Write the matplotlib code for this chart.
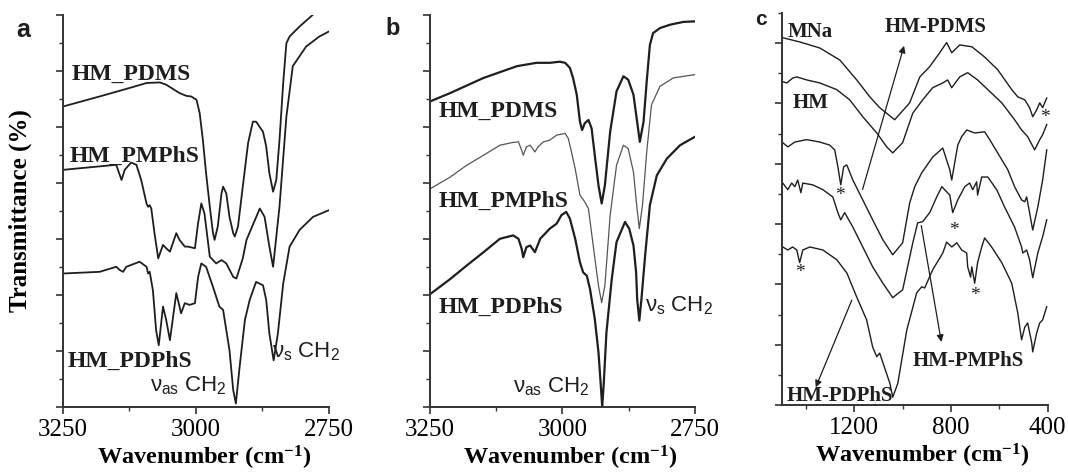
import matplotlib
matplotlib.use("Agg")
import matplotlib.pyplot as plt
from matplotlib.ticker import MultipleLocator

# ---- panel a : 3250-2750 cm-1 ----
a_pdms_x = [3250, 3181, 3118, 3093, 3068, 3056, 3031, 3018, 3009, 2999, 2993, 2987, 2981, 2974,
            2968, 2965, 2959, 2952, 2949, 2943, 2937, 2930, 2927, 2921, 2912, 2902, 2893, 2887,
            2874, 2868, 2862, 2855, 2849, 2843, 2836, 2830, 2824, 2805, 2780]
a_pdms_y = [5.36, 5.54, 5.71, 5.78, 5.79, 5.75, 5.60, 5.55, 5.54, 5.48, 5.24, 4.76, 4.17, 3.57,
            3.10, 2.98, 3.22, 3.81, 3.93, 3.81, 3.39, 3.10, 3.04, 3.22, 3.93, 4.71, 5.09, 5.09,
            4.91, 4.65, 4.17, 3.84, 4.05, 4.76, 5.78, 6.49, 6.61, 6.79, 7.0]

a_pmphs_x = [3250, 3150, 3140, 3134, 3122, 3112, 3103, 3093, 3090, 3087, 3084, 3078, 3071, 3062,
             3056, 3049, 3037, 3031, 3021, 3015, 3002, 2996, 2990, 2984, 2974, 2962, 2952, 2943,
             2930, 2924, 2912, 2905, 2880, 2871, 2862, 2855, 2843, 2830, 2818, 2793, 2768, 2750]
a_pmphs_y = [4.23, 4.32, 4.05, 4.23, 4.36, 4.32, 4.05, 3.63, 3.57, 3.60, 3.54, 3.10, 2.65, 2.89,
             2.83, 2.77, 3.10, 2.98, 2.86, 2.86, 2.83, 3.28, 3.63, 3.45, 2.68, 2.56, 2.62, 2.56,
             2.32, 2.29, 2.65, 2.98, 3.54, 3.39, 2.86, 2.50, 3.57, 5.18, 6.08, 6.43, 6.61, 6.70]

a_pdphs_x = [3250, 3181, 3150, 3143, 3137, 3131, 3106, 3093, 3090, 3087, 3081, 3075, 3070, 3062,
             3056, 3049, 3037, 3028, 3021, 3012, 3002, 2996, 2990, 2981, 2968, 2956, 2949, 2937,
             2930, 2925, 2918, 2908, 2899, 2887, 2874, 2868, 2862, 2854, 2846, 2836, 2824, 2805,
             2780, 2750]
a_pdphs_y = [2.38, 2.41, 2.50, 2.44, 2.41, 2.50, 2.59, 2.50, 2.38, 2.41, 2.08, 1.37, 1.10, 1.79,
             1.55, 1.19, 2.03, 1.67, 1.85, 1.82, 1.85, 2.32, 2.56, 2.50, 2.14, 1.79, 1.73, 1.01,
             0.30, 0.06, 0.71, 1.55, 1.91, 2.23, 2.17, 1.91, 1.31, 0.83, 1.31, 2.20, 2.86, 3.16,
             3.39, 3.51]

# ---- panel b : 3250-2750 cm-1 ----
b_pdms_x = [3250, 3212, 3149, 3086, 3049, 3024, 3005, 2995, 2986, 2980, 2973, 2967, 2963, 2958,
            2951, 2945, 2939, 2932, 2926, 2920, 2910, 2898, 2885, 2876, 2866, 2860, 2854, 2847,
            2841, 2835, 2829, 2816, 2797, 2772, 2750]
b_pdms_y = [5.45, 5.60, 5.87, 6.08, 6.14, 6.14, 6.16, 6.14, 6.05, 5.87, 5.57, 5.09, 4.94, 5.06,
            5.12, 4.97, 4.49, 3.95, 3.63, 3.95, 4.91, 5.63, 5.90, 5.84, 5.57, 5.15, 4.73, 5.09,
            5.81, 6.46, 6.67, 6.76, 6.82, 6.87, 6.88]

b_pmphs_x = [3250, 3212, 3181, 3149, 3118, 3093, 3083, 3077, 3074, 3068, 3061, 3052, 3046, 3036,
             3024, 3011, 2995, 2989, 2983, 2976, 2967, 2958, 2951, 2942, 2932, 2926, 2920, 2910,
             2898, 2885, 2876, 2866, 2860, 2855, 2849, 2841, 2832, 2816, 2791, 2750]
b_pmphs_y = [3.89, 4.10, 4.31, 4.49, 4.67, 4.72, 4.73, 4.58, 4.49, 4.64, 4.67, 4.55, 4.64, 4.73,
             4.76, 4.85, 4.88, 4.79, 4.55, 4.25, 3.78, 3.66, 3.54, 2.88, 2.16, 1.86, 2.16, 3.42,
             4.31, 4.67, 4.61, 4.19, 3.60, 3.18, 3.60, 4.55, 5.39, 5.72, 5.87, 5.93]

b_pdphs_x = [3250, 3212, 3181, 3149, 3118, 3093, 3083, 3077, 3074, 3068, 3061, 3052, 3042, 3033,
             3024, 3011, 3002, 2993, 2986, 2976, 2967, 2961, 2954, 2948, 2939, 2932, 2928, 2925,
             2922, 2917, 2907, 2898, 2882, 2874, 2866, 2861, 2859, 2855, 2851, 2844, 2835, 2822,
             2803, 2778, 2750]
b_pdphs_y = [2.01, 2.28, 2.52, 2.76, 3.00, 3.06, 3.00, 2.82, 2.67, 2.85, 2.88, 2.76, 3.00, 3.09,
             3.18, 3.27, 3.42, 3.48, 3.36, 3.00, 2.58, 2.40, 2.34, 2.10, 1.57, 0.97, 0.43, 0.0,
             0.43, 1.33, 2.28, 2.94, 3.30, 3.18, 2.88, 2.40, 1.92, 1.54, 1.92, 2.70, 3.60, 4.13,
             4.43, 4.67, 4.82]

# ---- panel c : 1500-400 cm-1 ----
c_mna_x = [1496, 1426, 1343, 1260, 1190, 1136, 1095, 1033, 971, 929, 888, 847, 818, 797, 764,
           714, 661, 607, 549, 524, 495, 475, 462, 446, 433, 421, 404]
c_mna_y = [6.09, 6.02, 5.92, 5.72, 5.39, 5.11, 4.93, 4.73, 5.01, 5.44, 5.61, 5.84, 6.01, 5.84,
           5.97, 5.94, 5.77, 5.56, 5.23, 5.11, 5.06, 4.93, 4.78, 4.89, 5.01, 4.93, 5.09]

c_hm_x = [1496, 1479, 1455, 1438, 1397, 1343, 1273, 1219, 1165, 1107, 1066, 1041, 1000, 958,
          917, 876, 834, 814, 797, 764, 731, 690, 648, 590, 537, 508, 483, 454, 433, 421, 404]
c_hm_y = [5.36, 5.34, 5.42, 5.44, 5.39, 5.34, 5.23, 5.06, 4.78, 4.51, 4.28, 4.18, 4.35, 4.84,
          5.06, 5.26, 5.34, 5.39, 5.26, 5.44, 5.51, 5.39, 5.23, 5.01, 4.73, 4.56, 4.45, 4.23,
          4.40, 4.48, 4.65]

c_pdms_x = [1496, 1475, 1446, 1397, 1343, 1302, 1281, 1268, 1256, 1244, 1231, 1206, 1165, 1124,
            1082, 1041, 1000, 971, 950, 921, 876, 834, 805, 797, 772, 756, 735, 702, 661, 640,
            607, 565, 537, 508, 495, 487, 475, 462, 441, 421, 404]
c_pdms_y = [4.35, 4.28, 4.36, 4.40, 4.36, 4.31, 4.23, 3.95, 3.65, 3.95, 3.98, 3.73, 3.40, 3.07,
            2.74, 2.49, 2.69, 3.35, 3.62, 3.85, 4.11, 4.26, 3.90, 3.73, 4.31, 4.45, 4.56, 4.51,
            4.53, 4.40, 4.18, 3.90, 3.62, 3.40, 3.37, 3.45, 3.19, 2.90, 3.28, 3.73, 4.23]

c_pmphs_x = [1496, 1475, 1459, 1446, 1434, 1421, 1413, 1372, 1330, 1289, 1268, 1256, 1240, 1206,
             1165, 1124, 1082, 1041, 1000, 958, 938, 917, 888, 859, 838, 805, 793, 772, 743, 723,
             710, 694, 690, 673, 648, 611, 578, 537, 508, 503, 487, 475, 462, 441, 421, 404]
c_pmphs_y = [3.68, 3.57, 3.68, 3.62, 3.73, 3.52, 3.68, 3.65, 3.57, 3.45, 3.19, 3.07, 3.19, 2.95,
             2.62, 2.29, 2.02, 1.78, 1.91, 2.69, 3.02, 3.04, 3.19, 3.45, 3.62, 3.48, 3.19, 3.40,
             3.62, 3.68, 3.57, 3.70, 3.48, 3.78, 3.78, 3.57, 3.28, 2.95, 2.62, 2.52, 2.57, 2.41,
             2.11, 2.52, 2.79, 3.07]

c_pdphs_x = [1496, 1475, 1455, 1438, 1426, 1413, 1384, 1330, 1273, 1231, 1190, 1149, 1124, 1107,
             1095, 1053, 1041, 1020, 983, 942, 921, 909, 876, 834, 818, 797, 776, 756, 735, 731,
             719, 714, 702, 690, 673, 661, 632, 590, 549, 524, 508, 495, 483, 466, 462, 446, 433,
             421, 404]
c_pdphs_y = [2.62, 2.57, 2.62, 2.57, 2.36, 2.57, 2.62, 2.57, 2.41, 2.19, 1.79, 1.41, 0.96, 0.80,
             0.86, 0.36, 0.13, 0.36, 1.24, 1.86, 1.96, 1.94, 2.24, 2.52, 2.70, 2.62, 2.69, 2.57,
             2.52, 2.29, 2.12, 2.29, 2.02, 2.36, 2.62, 2.77, 2.62, 2.36, 2.02, 1.53, 1.08, 1.29,
             1.36, 1.03, 0.88, 1.19, 1.36, 1.41, 1.63]

# asterisks marking bands in panel c
star_x = [412, 1260, 789, 1426, 702]
star_y = [4.76, 3.48, 2.90, 2.19, 1.81]

SERIF = "Liberation Serif"
SANS = "Liberation Sans"
INK = "#1e1e1e"

plt.rcParams["font.family"] = [SERIF, "DejaVu Serif"]

fig = plt.figure(figsize=(10.68, 4.72), dpi=100)


def frame(ax, xlim, ylim, xmaj, xmin, ymaj, ymin):
    ax.set_xlim(*xlim)
    ax.set_ylim(*ylim)
    for s in ["top", "right"]:
        ax.spines[s].set_visible(False)
    for s in ["left", "bottom"]:
        ax.spines[s].set_linewidth(1.4)
        ax.spines[s].set_color("#333333")
    ax.xaxis.set_major_locator(MultipleLocator(xmaj))
    ax.xaxis.set_minor_locator(MultipleLocator(xmin))
    ax.yaxis.set_major_locator(MultipleLocator(ymaj))
    ax.yaxis.set_minor_locator(MultipleLocator(ymin))
    ax.tick_params(axis="both", which="major", direction="out", length=5, width=1.2,
                   color="#333333", labelsize=18, pad=4, labelfontfamily=SERIF)
    ax.tick_params(axis="both", which="minor", direction="out", length=3, width=1.0,
                   color="#333333")
    ax.tick_params(axis="y", which="both", labelleft=False)
    ax.set_xlabel(r"Wavenumber (cm$\mathregular{^{-1}}$)", fontweight="bold",
                  fontsize=17.5, va="top")
    ax.xaxis.set_label_coords(0.53, -0.095)


def nu(ax, x, y, sub):
    ax.text(x, y, r"$\mathregular{\nu_{%s}}$ CH$\mathregular{_2}$" % sub, fontfamily=SANS,
            fontsize=16, ha="left", va="baseline", color=INK, clip_on=False)


def tag(ax, x, y, s, size=17):
    ax.text(x, y, s, fontweight="bold", fontsize=size, ha="left",
            va="baseline", color=INK, clip_on=False)


# panel a
ax_a = fig.add_axes([0.059, 0.138, 0.249, 0.831])
frame(ax_a, (3250, 2750), (0, 7), 250, 125, 1, 0.5)
ax_a.plot(a_pdms_x, a_pdms_y, color=INK, lw=1.3)
ax_a.plot(a_pmphs_x, a_pmphs_y, color=INK, lw=1.3)
ax_a.plot(a_pdphs_x, a_pdphs_y, color=INK, lw=1.3)
tag(ax_a, 3234, 5.84, "HM_PDMS")
tag(ax_a, 3237, 4.38, "HM_PMPhS")
tag(ax_a, 3241, 0.71, "HM_PDPhS")
nu(ax_a, 3087, 0.27, "as")
nu(ax_a, 2858, 0.89, "s")
ax_a.set_ylabel("Transmittance (%)", fontweight="bold", fontsize=18)
ax_a.yaxis.set_label_coords(-0.118, 0.5)

# panel b
ax_b = fig.add_axes([0.4026, 0.138, 0.2481, 0.831])
frame(ax_b, (3250, 2750), (0, 7), 250, 125, 1, 0.5)
ax_b.plot(b_pdms_x, b_pdms_y, color=INK, lw=1.6)
ax_b.plot(b_pmphs_x, b_pmphs_y, color="#555555", lw=0.9)
ax_b.plot(b_pdphs_x, b_pdphs_y, color=INK, lw=1.6)
tag(ax_b, 3234, 5.18, "HM_PDMS")
tag(ax_b, 3234, 3.57, "HM_PMPhS")
tag(ax_b, 3234, 1.68, "HM_PDPhS")
nu(ax_b, 3093, 0.25, "as")
nu(ax_b, 2844, 1.71, "s")

# panel c
ax_c = fig.add_axes([0.732, 0.142, 0.249, 0.8305])
frame(ax_c, (1500, 400), (0, 6.5), 400, 200, 1, 0.5)
for xs, ys in [(c_mna_x, c_mna_y), (c_hm_x, c_hm_y), (c_pdms_x, c_pdms_y),
               (c_pmphs_x, c_pmphs_y), (c_pdphs_x, c_pdphs_y)]:
    ax_c.plot(xs, ys, color=INK, lw=1.0)
for sx, sy in zip(star_x, star_y):
    ax_c.text(sx, sy, "*", fontsize=14, ha="center", va="center", color=INK)
tag(ax_c, 1475, 6.10, "MNa", 15)
tag(ax_c, 1074, 6.19, "HM-PDMS", 15)
tag(ax_c, 1455, 4.93, "HM", 15)
tag(ax_c, 958, 0.65, "HM-PMPhS", 15)
tag(ax_c, 1479, 0.07, "HM-PDPhS", 15)
arrow = dict(arrowstyle="-|>", color=INK, lw=0.9, mutation_scale=10)
ax_c.annotate("", xy=(991, 6.0), xytext=(1169, 3.53), arrowprops=arrow)
ax_c.annotate("", xy=(838, 1.0), xytext=(925, 3.02), arrowprops=arrow)
ax_c.annotate("", xy=(1364, 0.25), xytext=(1206, 1.78), arrowprops=arrow)

# panel letters
fig.text(16 / 1068, 1 - 37 / 472, "a", fontfamily=SANS, fontweight="bold", fontsize=18,
         va="baseline", color=INK)
fig.text(385 / 1068, 1 - 35 / 472, "b", fontfamily=SANS, fontweight="bold", fontsize=17,
         va="baseline", color=INK)
fig.text(755 / 1068, 1 - 25 / 472, "c", fontfamily=SANS, fontweight="bold", fontsize=15,
         va="baseline", color=INK)

fig.savefig("out.png", dpi=100)
